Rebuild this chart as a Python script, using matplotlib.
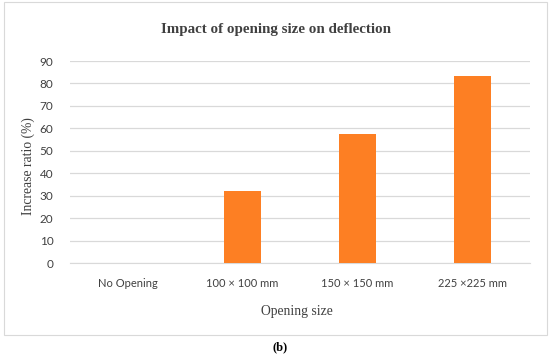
import matplotlib
matplotlib.use("Agg")
import matplotlib.pyplot as plt
from matplotlib.patches import Rectangle

categories = ["No Opening", "100 × 100 mm", "150 × 150 mm", "225 ×225 mm"]
values = [0, 32.2, 57.3, 83.3]
yticks = [0, 10, 20, 30, 40, 50, 60, 70, 80, 90]

fig = plt.figure(figsize=(5.5, 3.59), dpi=100)
fig.patch.set_facecolor("white")
fig.patches.append(Rectangle((4/550, 1-335/359), 543/550, 333/359, transform=fig.transFigure,
                             fill=False, edgecolor="#D9D9D9", linewidth=0.8))

ax = fig.add_axes([70/550, 1-263/359, 460/550, 202/359])
x = range(len(categories))
ax.bar(x, values, width=0.32, color="#FD7F23", zorder=3)
ax.set_xlim(-0.5, 3.5)
ax.set_ylim(0, 90)
ax.set_yticks(yticks)
ax.set_xticks(list(x))
ax.set_xticklabels(categories, fontsize=8, color="#404040", fontfamily="Lato")
ax.set_yticklabels([str(t) for t in yticks], fontsize=8.5, color="#404040", fontfamily="Lato")
ax.tick_params(axis="x", length=0, pad=11)
ax.tick_params(axis="y", length=0, pad=12)
ax.grid(axis="y", color="#D9D9D9", linewidth=0.9, zorder=0)
for s in ["top", "right", "left"]:
    ax.spines[s].set_visible(False)
ax.spines["bottom"].set_color("#D9D9D9")
ax.set_axisbelow(True)

fig.text(297/550, 1-311/359, "Opening size", ha="center", va="center", fontsize=9.8,
         color="#404040", fontfamily="Liberation Serif")
fig.text(28/550, 1-166/359, "Increase ratio (%)", ha="center", va="center", rotation=90,
         fontsize=9.8, color="#404040", fontfamily="Liberation Serif")
fig.text(276/550, 1-30/359, "Impact of opening size on deflection", ha="center", va="center",
         fontsize=10.8, fontweight="bold", color="#404040", fontfamily="Liberation Serif")
fig.text(280/550, 1-347/359, "(b)", ha="center", va="center", fontsize=9, fontweight="bold",
         color="black", fontfamily="Liberation Serif")

fig.savefig("out.png", dpi=100)
